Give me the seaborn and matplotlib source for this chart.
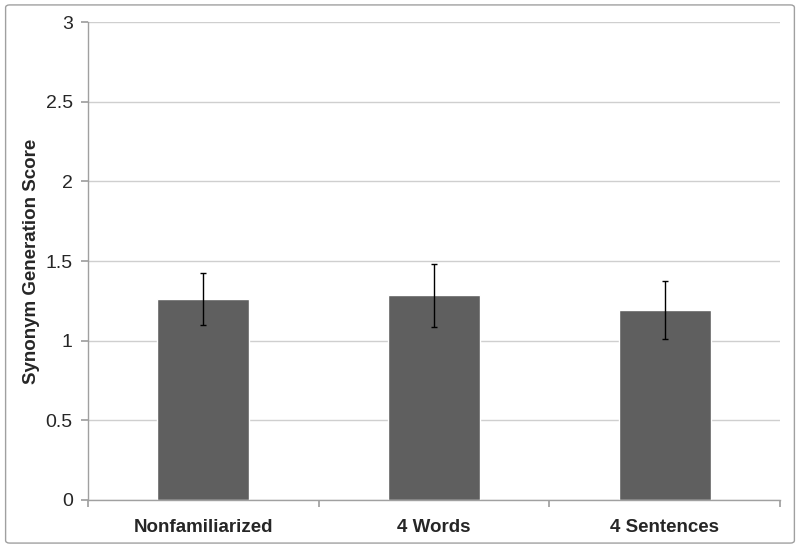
import matplotlib
matplotlib.use("Agg")
import matplotlib.pyplot as plt
from matplotlib.patches import FancyBboxPatch
import seaborn as sns
import pandas as pd

# values
conditions = ["Nonfamiliarized", "4 Words", "4 Sentences"]
scores = [1.262, 1.284, 1.192]
errors = [0.166, 0.195, 0.184]
y_ticks = [0, 0.5, 1, 1.5, 2, 2.5, 3]
y_tick_labels = ["0", "0.5", "1", "1.5", "2", "2.5", "3"]

df = pd.DataFrame({"condition": conditions, "score": scores})

sns.set_theme(style="white")
plt.rcParams['font.family'] = ['Liberation Sans', 'DejaVu Sans']

fig = plt.figure(figsize=(8, 5.48), dpi=100)
ax = fig.add_axes([0.11, 0.0876, 0.865, 0.872])

sns.barplot(data=df, x="condition", y="score", color="#5f5f5f", saturation=1,
            width=0.4, errorbar=None, ax=ax)
ax.errorbar(x=range(len(conditions)), y=scores, yerr=errors, fmt="none",
            ecolor="black", elinewidth=1, capsize=2.2, capthick=1)

ax.set_xlim(-0.5, 2.5)
ax.set_ylim(0, 3)
ax.set_yticks(y_ticks)
ax.set_yticklabels(y_tick_labels, fontsize=14)
ax.yaxis.grid(True, color="#cfcfcf", linewidth=1)
ax.set_axisbelow(True)

# category boundary ticks, labels centred between them
ax.set_xticks([-0.5, 0.5, 1.5, 2.5])
ax.set_xticklabels([])
ax.set_xticks(range(len(conditions)), minor=True)
ax.set_xticklabels(conditions, minor=True, fontsize=13.5, fontweight="bold",
                   family=['Liberation Sans Narrow', 'Liberation Sans'])
ax.tick_params(axis="x", which="major", length=5, color="#a0a0a0", direction="out", bottom=True)
ax.tick_params(axis="x", which="minor", length=0, pad=14)
ax.tick_params(axis="y", length=5, color="#a0a0a0", direction="out", left=True, pad=6)

for side in ["top", "right"]:
    ax.spines[side].set_visible(False)
for side in ["left", "bottom"]:
    ax.spines[side].set_color("#a0a0a0")
    ax.spines[side].set_linewidth(1)

ax.set_xlabel("")
ax.set_ylabel("Synonym Generation Score", fontsize=13.5, fontweight="bold", labelpad=4)

fig.patches.append(FancyBboxPatch((0.007, 0.009), 0.986, 0.982, boxstyle="round,pad=0,rounding_size=0.005",
                                  transform=fig.transFigure, facecolor="none",
                                  edgecolor="#a0a0a0", linewidth=1))

fig.savefig("out.png", dpi=100)
plt.close(fig)
